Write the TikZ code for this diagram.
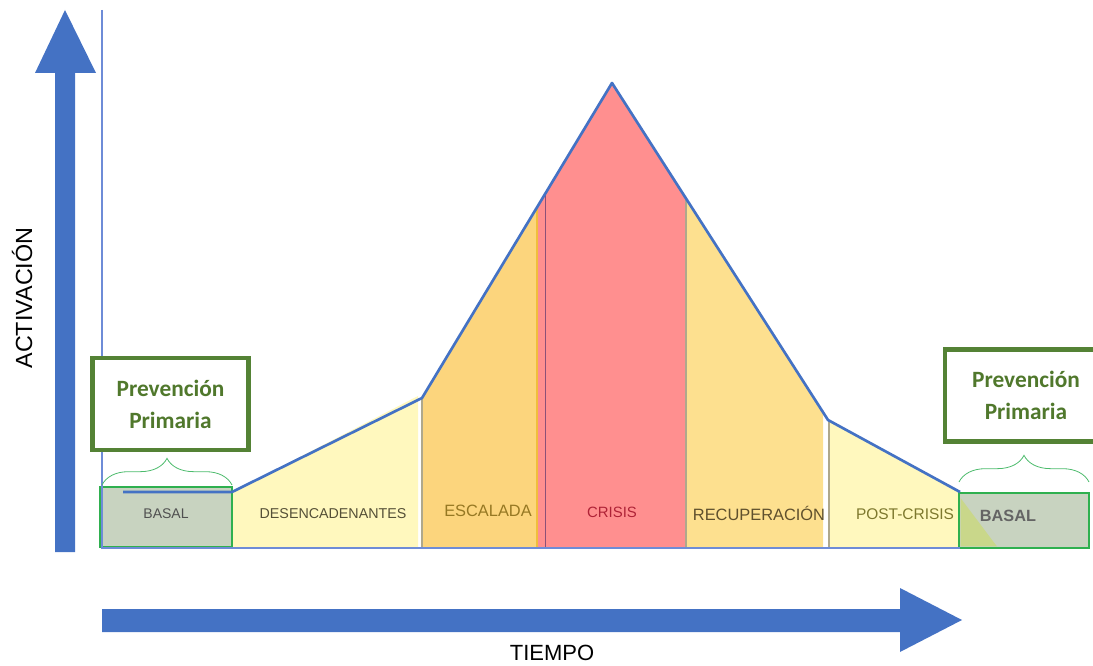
\documentclass[tikz,border=0pt]{standalone}
\usepackage{fontspec}
\setmainfont{Liberation Sans}
\newfontfamily\prevfont{Carlito}
\usetikzlibrary{decorations.pathreplacing}

\definecolor{arrowblue}{RGB}{68,114,196}
\definecolor{axisblue}{RGB}{110,140,215}
\definecolor{paleyellow}{RGB}{255,248,190}
\definecolor{escorange}{RGB}{252,213,125}
\definecolor{recorange}{RGB}{253,224,143}
\definecolor{crisisred}{RGB}{255,143,143}
\definecolor{basalfill}{RGB}{200,211,192}
\definecolor{basalgreen}{RGB}{47,176,79}
\definecolor{prevgreen}{RGB}{84,130,53}
\definecolor{prevtext}{RGB}{80,120,44}
\definecolor{bracegreen}{RGB}{76,187,108}
\definecolor{sepgray}{RGB}{175,168,140}
\definecolor{overlapgreen}{RGB}{201,215,138}

\tikzset{
  curve/.style={draw=arrowblue, line width=2pt, line join=round},
  basalbox/.style={draw=basalgreen, fill=basalfill, line width=1.6pt},
  prevbox/.style={draw=prevgreen, fill=white, line width=3.2pt, align=center,
    font=\prevfont\bfseries\fontsize{17.5}{24}\selectfont, text=prevtext,
    minimum width=117pt, minimum height=69pt, inner sep=0pt},
  phase/.style={font=\fontsize{11.5}{12}\selectfont, inner sep=0pt},
  bracestyle/.style={draw=bracegreen, line width=0.6pt, decorate,
    decoration={brace, amplitude=20pt}},
  sepline/.style={draw=sepgray, line width=0.8pt}
}

\begin{document}
\begin{tikzpicture}[x=0.75pt,y=0.75pt,yscale=-1,xscale=1]
        \useasboundingbox (0,0) rectangle (1093,666);

        % points of the activation curve
        \coordinate (b0) at (123,492);
        \coordinate (b1) at (232,492);
        \coordinate (k1) at (422,398);
        \coordinate (pk) at (612,83);
        \coordinate (k2) at (828,420);
        \coordinate (b2) at (960,492);
        % axis corners
        \coordinate (ytop) at (102,10);
        \coordinate (orig) at (102,548);
        \coordinate (xend) at (960,548);

        %Shape: phase fills
        \fill [paleyellow] (b1) -- (418,396) -- (418,548) -- (232,548) -- cycle ;
        \fill [escorange] (k1) -- (537,207) -- (537,548) -- (422,548) -- cycle ;
        \fill [crisisred] (537,207) -- (pk) -- (686,198) -- (686,548) -- (537,548) -- cycle ;
        \fill [recorange] (686,198) -- (823,412) -- (823,548) -- (686,548) -- cycle ;
        \fill [paleyellow] (829,421) -- (b2) -- (xend) -- (829,548) -- cycle ;

        %Straight Lines: separators
        \draw [sepline] (k1) -- (422,548) ;
        \draw [draw={rgb,255:red,240;green,190;blue,60}, line width=0.8pt] (537,207) -- (537,548) ;
        \draw [draw={rgb,255:red,140;green,80;blue,120}, line width=0.6pt] (545,195) -- (545,548) ;
        \draw [sepline] (686,198) -- (686,548) ;
        \draw [sepline] (829,421) -- (829,548) ;

        %Shape: basal boxes
        \draw [basalbox] (100,487) rectangle (232,547) ;
        \draw [basalbox] (959,493) rectangle (1089,548) ;
        \fill [overlapgreen] (960.5,498) -- (960.5,546.5) -- (997,546.5) -- cycle ;

        %Straight Lines: axes
        \draw [axisblue, line width=0.8pt] (ytop) -- (orig) -- (xend) ;

        %Straight Lines: activation curve
        \draw [curve] (b0) -- (b1) -- (k1) -- (pk) -- (k2) -- (b2) ;

        %Shape: block arrows
        \fill [arrowblue] (55,552) -- (55,73) -- (35,73) -- (65,10) -- (96,73) -- (75,73) -- (75,552) -- cycle ;
        \fill [arrowblue] (102,609) -- (900,609) -- (900,588) -- (962,620) -- (900,652) -- (900,632) -- (102,632) -- cycle ;

        % Braces
        \coordinate (bl1) at (102,485);
        \coordinate (bl2) at (232,485);
        \coordinate (br1) at (959,482);
        \coordinate (br2) at (1089,482);
        \draw [bracestyle] (bl1) -- (bl2) ;
        \draw [bracestyle] (br1) -- (br2) ;

        % Text Node
        \node [prevbox] (prevL) at (170.5,404) {Prevención\\Primaria};
        % Text Node
        \node [prevbox, minimum width=121pt] (prevR) at (1026,395.5) {Prevención\\Primaria};

        % Text Node
        \node [phase, text={rgb,255:red,80;green,80;blue,80}, font=\fontsize{10.5}{12}\selectfont] (basalL) at (166,514) {BASAL};
        % Text Node
        \node [phase, text={rgb,255:red,85;green,80;blue,55}, font=\fontsize{10.7}{12}\selectfont] (desenc) at (333,514) {DESENCADENANTES};
        % Text Node
        \node [phase, text={rgb,255:red,150;green,120;blue,35}, font=\fontsize{12.3}{14}\selectfont] (escal) at (488,511) {ESCALADA};
        % Text Node
        \node [phase, text={rgb,255:red,175;green,35;blue,55}, font=\fontsize{11.2}{13}\selectfont] (crisis) at (612,512) {CRISIS};
        % Text Node
        \node [phase, text={rgb,255:red,95;green,80;blue,45}, font=\fontsize{12.3}{14}\selectfont] (recup) at (759,513) {RECUPERACIÓN};
        % Text Node
        \node [phase, text={rgb,255:red,125;green,120;blue,45}, font=\fontsize{11.6}{13}\selectfont] (post) at (905,514) {POST-CRISIS};
        % Text Node
        \node [phase, text={rgb,255:red,100;green,100;blue,100}, font=\bfseries\fontsize{12.2}{14}\selectfont] (basalR) at (1008,516) {BASAL};

        % Text Node
        \node [font=\fontsize{17.5}{19}\selectfont, rotate=90, inner sep=0pt] (activ) at (22,298) {ACTIVACIÓN};
        % Text Node
        \node [font=\fontsize{16.5}{18}\selectfont, inner sep=0pt] (tiempo) at (552,653) {TIEMPO};

\end{tikzpicture}
\end{document}
